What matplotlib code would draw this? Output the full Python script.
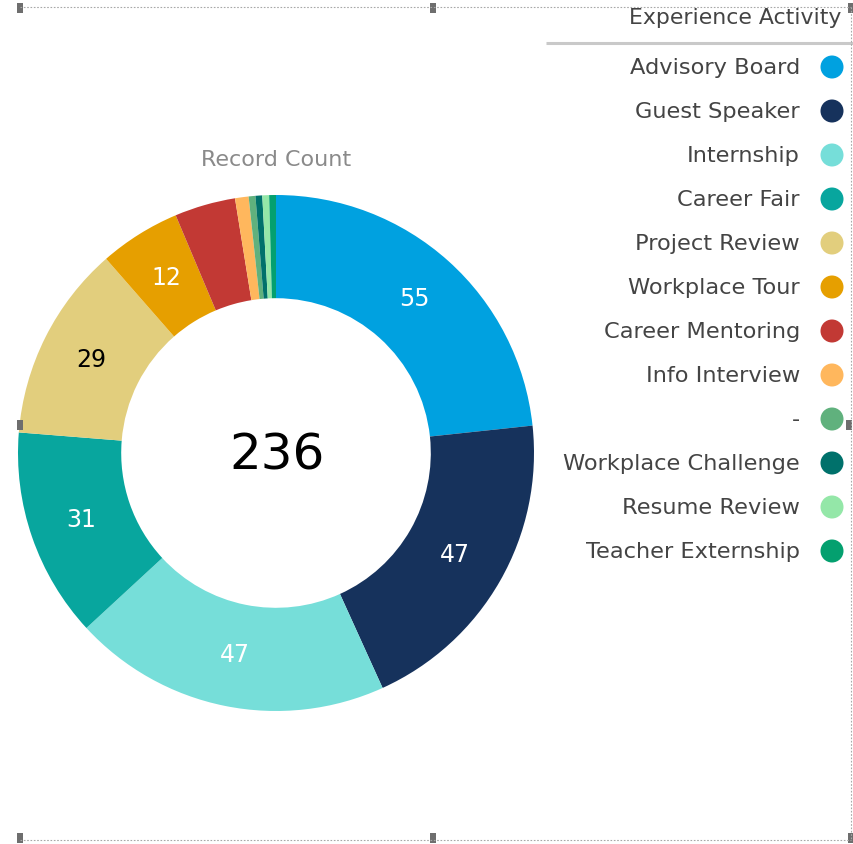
import numpy as np
import matplotlib
matplotlib.use("Agg")
import matplotlib.pyplot as plt
from matplotlib.patches import Circle, Rectangle

plt.rcParams['font.family'] = ['DejaVu Sans']

categories = ['Advisory Board', 'Guest Speaker', 'Internship', 'Career Fair',
              'Project Review', 'Workplace Tour', 'Career Mentoring',
              'Info Interview', '-', 'Workplace Challenge', 'Resume Review',
              'Teacher Externship']
counts = [55, 47, 47, 31, 29, 12, 9, 2, 1, 1, 1, 1]
colors = ['#00A1E0', '#16325C', '#76DED9', '#08A69E', '#E2CE7D', '#E69F00',
          '#C23934', '#FFB75D', '#60B17D', '#00716B', '#94E7A8', '#04A06F']
label_colors = ['white', 'white', 'white', 'white', 'black', 'white']

W, H = 854, 844
fig = plt.figure(figsize=(W / 100, H / 100), dpi=100)

# donut (left edge is clipped by the panel)
cx, cy, R = 276, 453, 258
pax = fig.add_axes([19 / W, 0, (W - 19) / W, 1])
wedges, _ = pax.pie(counts, colors=colors, startangle=90, counterclock=False,
                    center=(cx, H - cy), radius=R,
                    wedgeprops=dict(width=R * 0.4, linewidth=0), frame=True)
pax.set_xlim(19, W)
pax.set_ylim(0, H)
pax.set_aspect('equal')
pax.axis('off')

# value labels on big slices
total = sum(counts)
cum = 0
for i, v in enumerate(counts):
    mid = 90 - (cum + v / 2) / total * 360
    cum += v
    if v < 10:
        continue
    r = R * 0.8
    x = cx + r * np.cos(np.radians(mid))
    y = (H - cy) + r * np.sin(np.radians(mid))
    pax.text(x, y, str(v), ha='center', va='center', fontsize=17,
             color=label_colors[i])

# overlay for text, legend and frame (pixel coordinates)
ax = fig.add_axes([0, 0, 1, 1])
ax.set_xlim(0, W)
ax.set_ylim(H, 0)
ax.axis('off')

ax.text(276, 160, 'Record Count', ha='center', va='center', fontsize=16,
        color='#8a8a8a')
ax.text(277, 456, str(total), ha='center', va='center', fontsize=36,
        color='black')

# legend
ax.text(841, 18, 'Experience Activity', ha='right', va='center',
        fontsize=15.8, color='#444444')
ax.plot([546, 854], [43, 43], color='#c9c9c9', linewidth=2.2,
        solid_capstyle='butt')
for i, (name, c) in enumerate(zip(categories, colors)):
    y = 68 + 44 * i
    ax.text(800, y, name, ha='right', va='center', fontsize=16.2,
            color='#444444')
    ax.add_patch(Circle((832, y - 1), 11.5, color=c, linewidth=0))

# dotted selection frame with handles
fc = '#a8a8a8'
ls = (0, (1.5, 1.5))
ax.plot([20, 851], [7, 7], color=fc, linestyle=ls, linewidth=0.8)
ax.plot([20, 851], [840, 840], color=fc, linestyle=ls, linewidth=0.8)
ax.plot([851, 851], [7, 840], color=fc, linestyle=ls, linewidth=0.8)
for hx, hy in [(20, 8), (433, 8), (851, 8), (20, 425), (849, 425),
               (20, 838), (433, 838), (851, 838)]:
    ax.add_patch(Rectangle((hx - 3, hy - 5), 6, 10, color='#6e6e6e',
                           linewidth=0))

fig.savefig('out.png', dpi=100)
